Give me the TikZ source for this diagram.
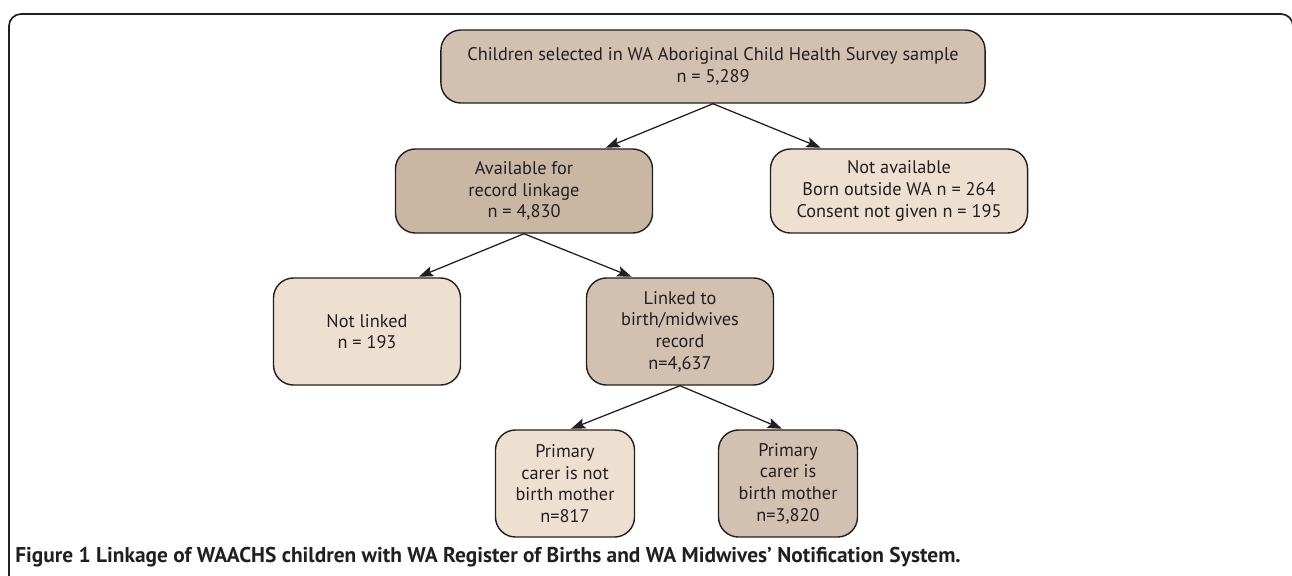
\documentclass[tikz,border=0pt]{standalone}
\usepackage{fontspec}
\setmainfont{PT Sans}
\usetikzlibrary{arrows,arrows.meta,calc,shapes}
\definecolor{darkbox}{HTML}{C9B7A4}
\definecolor{midbox}{HTML}{D2C0B0}
\definecolor{lightbox}{HTML}{EEE0D0}
\definecolor{edgegray}{HTML}{231F20}
\tikzset{
  box/.style={draw=edgegray,line width=1pt,rounded corners=0.5cm,align=center,inner sep=0pt,
    font=\fontsize{13}{15.4}\selectfont,text=edgegray},
  widebox/.style={box,minimum width=6.425cm,minimum height=2.1cm},
  midsize/.style={box,minimum width=4.675cm,minimum height=2.675cm},
  smallbox/.style={box,minimum width=3.475cm,minimum height=2.675cm}
}

\begin{document}
\begin{tikzpicture}[x=0.025cm,y=-0.025cm]
  \useasboundingbox (0,0) rectangle (1292,575);
  % frame round the figure
  \draw[edgegray,line width=1.2pt,rounded corners=0.3cm] (9,620) -- (9,14) -- (1293,14) -- (1293,620);

  \node[box,fill=midbox,minimum width=13.6cm,minimum height=1.825cm] (sample) at (713,66.5)
    {Children selected in WA Aboriginal Child Health Survey sample\\n = 5,289};
  \node[widebox,fill=darkbox] (avail) at (524,191) {Available for\\record linkage\\n = 4,830};
  \node[widebox,fill=lightbox] (notavail) at (899,191)
    {Not available\\Born outside WA n = 264\\Consent not given n = 195};
  \node[midsize,fill=lightbox] (notlinked) at (367,331.5) {Not linked\\n = 193};
  \node[midsize,fill=midbox] (linked) at (680,331.5) {Linked to\\birth/midwives\\record\\n=4,637};
  \node[smallbox,fill=lightbox] (notmother) at (565,483.5) {Primary\\carer is not\\birth mother\\n=817};
  \node[smallbox,fill=midbox] (mother) at (788,483.5) {Primary\\carer is\\birth mother\\n=3,820};

  \path[-{Stealth[length=3.6mm,width=2.6mm,inset=0.7mm]},line width=0.9pt,edgegray,shorten >=1pt]
    (sample.south) edge (avail.28)
    (sample.south) edge (notavail.151)
    (avail.south) edge (notlinked.47)
    (avail.south) edge (linked.131)
    (linked.south) edge (notmother.85)
    (linked.south) edge (mother.95);

  \node[anchor=base west,inner sep=0pt,font=\fontsize{15.2}{18}\selectfont\bfseries,text=edgegray] (caption) at (15,562)
    {Figure 1 Linkage of WAACHS children with WA Register of Births and WA Midwives' Notification System.};
\end{tikzpicture}
\end{document}
